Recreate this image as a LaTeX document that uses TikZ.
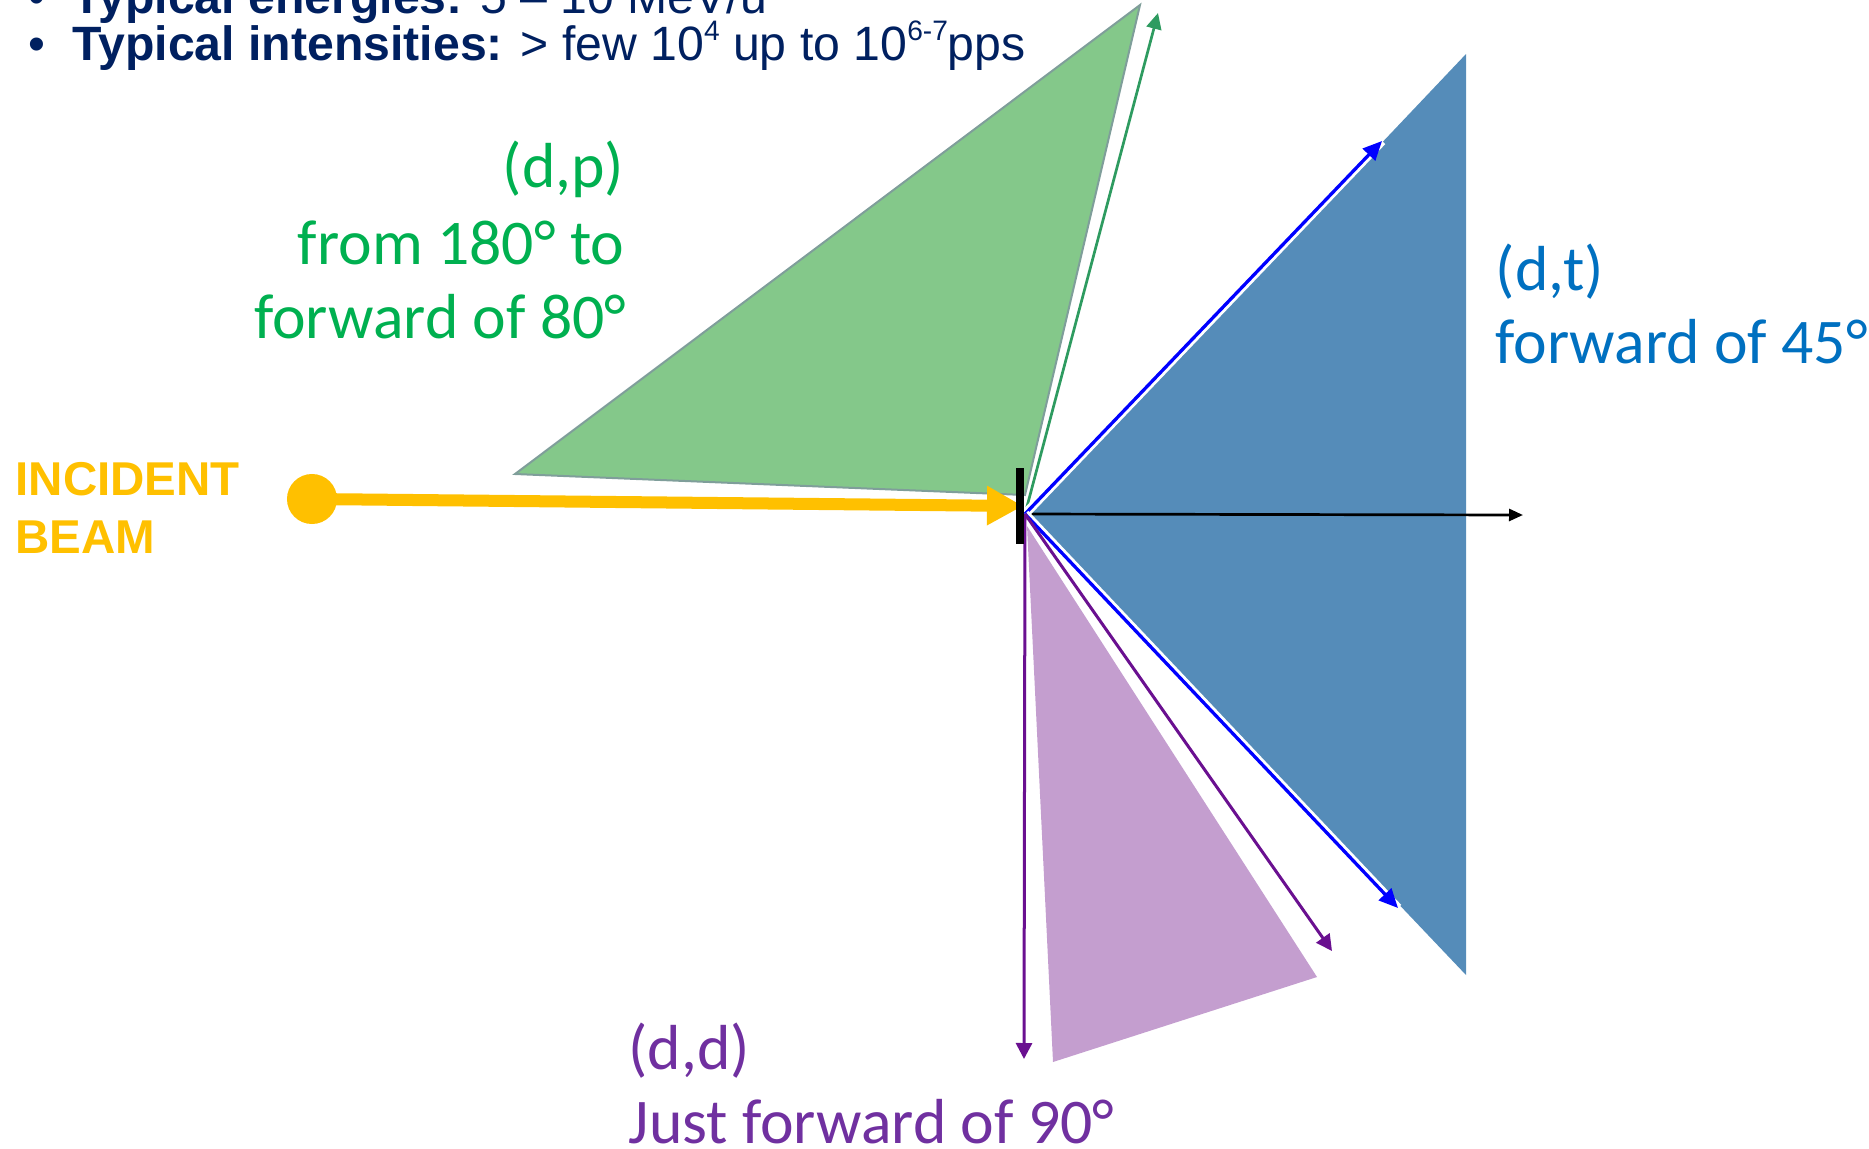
\documentclass[tikz,border=0pt]{standalone}
\usepackage{fontspec}
\setmainfont{Carlito}
\newfontfamily\arialfont{Liberation Sans}
\usetikzlibrary{arrows.meta}
\definecolor{rxnavy}{HTML}{002060}
\definecolor{rxyellow}{HTML}{FFC000}
\definecolor{dpgreen}{HTML}{00B050}
\definecolor{dpfill}{HTML}{84C88A}
\definecolor{dpedge}{HTML}{7F9E9A}
\definecolor{dparrow}{HTML}{2E9B60}
\definecolor{dtblue}{HTML}{0070C0}
\definecolor{dtfill}{HTML}{558CB9}
\definecolor{dtarrow}{HTML}{0000FF}
\definecolor{ddpurple}{HTML}{7030A0}
\definecolor{ddfill}{HTML}{C49ECF}
\definecolor{ddarrow}{HTML}{6A1090}
\tikzset{
  lbl/.style={inner sep=0pt, font=\fontsize{18.1}{22}\selectfont},
  head/.style={inner sep=0pt, text=rxnavy, font=\arialfont\fontsize{13.7}{16}\selectfont},
  beamlbl/.style={inner sep=0pt, text=rxyellow, font=\arialfont\bfseries\fontsize{13.5}{16}\selectfont},
  parr/.style={-{Triangle[length=0.16cm,width=0.15cm]}, line width=0.027cm, color=dparrow},
  tarr/.style={-{Triangle[length=0.19cm,width=0.17cm]}, line width=0.033cm, color=dtarrow,
    preaction={draw=white, line width=0.09cm, -}},
  darr/.style={-{Triangle[length=0.16cm,width=0.16cm]}, line width=0.03cm, color=ddarrow},
  zarr/.style={-{Triangle[length=0.14cm,width=0.12cm]}, line width=0.027cm, color=black},
  beam/.style={-{Triangle[length=0.36cm,width=0.37cm]}, line width=0.12cm, color=rxyellow},
}
\newcommand{\supnum}[1]{\raisebox{0.4em}{\fontsize{8}{9}\selectfont #1}}

\begin{document}
\begin{tikzpicture}[x=0.01cm,y=-0.01cm]
  \useasboundingbox (0,0) rectangle (1869,1148);
  \clip (0,0) rectangle (1869,1148);
  \fill[dtfill] (1029,515) -- (1466,54) -- (1466,975) -- cycle;
  \filldraw[fill=dpfill, draw=dpedge, line width=0.02cm] (515,474) -- (1140,5) -- (1025,495) -- cycle;
  \fill[ddfill] (1027,526) -- (1317,977) -- (1053,1062) -- cycle;

  \coordinate (O) at (1025,514);
  \coordinate (pEnd) at (1158,13);
  \coordinate (tUp) at (1382,141);
  \coordinate (tDn) at (1398,908);
  \coordinate (dDn) at (1024,1059);
  \coordinate (dDiag) at (1332,951);
  \coordinate (zEnd) at (1523,515);
  \coordinate (beamTip) at (1023,506);

  \draw[zarr] (O) -- (zEnd);
  \draw[parr] (O) -- (pEnd);
  \foreach \e in {tUp,tDn} \draw[tarr] (O) -- (\e);
  \foreach \e in {dDn,dDiag} \draw[darr] (O) -- (\e);

  \node[circle, fill=rxyellow, minimum size=0.5cm, inner sep=0pt] (src) at (312,499) {};
  \draw[beam] (src.center) -- (beamTip);
  \node[fill=black, minimum width=0.08cm, minimum height=0.76cm, inner sep=0pt] (tgt) at (1020,506) {};

  \node[head, anchor=base] (b1) at (37,13) {•};
  \node[head, anchor=base west] (h1) at (72,13) {\bfseries Typical energies: \mdseries 5 – 10 MeV/u};
  \node[head, anchor=base] (b2) at (37,60) {•};
  \node[head, anchor=base west] (h2) at (72,60) {\bfseries Typical intensities: \mdseries > few 10\supnum{4} up to 10\supnum{6-7}pps};

  \node[beamlbl, anchor=base west] (inc) at (15,495) {INCIDENT};
  \node[beamlbl, anchor=base west] (bm) at (15,553) {BEAM};

  \node[lbl, text=dpgreen, anchor=base east] (dp1) at (625,187) {(d,p)};
  \node[lbl, text=dpgreen, anchor=base east] (dp2) at (625,264) {from 180° to};
  \node[lbl, text=dpgreen, anchor=base east] (dp3) at (627,338) {forward of 80°};

  \node[lbl, text=dtblue, anchor=base west] (dt1) at (1495,290) {(d,t)};
  \node[lbl, text=dtblue, anchor=base west] (dt2) at (1495,363) {forward of 45°};

  \node[lbl, text=ddpurple, anchor=base west] (dd1) at (628,1069) {(d,d)};
  \node[lbl, text=ddpurple, anchor=base west] (dd2) at (628,1143) {Just forward of 90°};
\end{tikzpicture}
\end{document}
